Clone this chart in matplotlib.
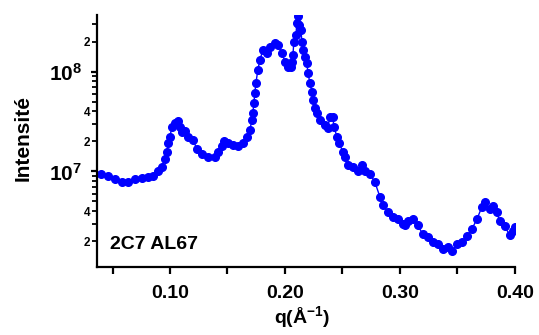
import numpy as np
import matplotlib
matplotlib.use("Agg")
import matplotlib.pyplot as plt
from matplotlib.ticker import LogLocator, FixedLocator, FuncFormatter

plt.rcParams['font.family'] = ['Liberation Sans', 'DejaVu Sans']
plt.rcParams['font.weight'] = 'bold'
plt.rcParams['mathtext.fontset'] = 'custom'
plt.rcParams['mathtext.rm'] = 'Liberation Sans:bold'
plt.rcParams['mathtext.bf'] = 'Liberation Sans:bold'

# q (1/Angstrom) and intensity
q = [0.0400, 0.0461, 0.0522, 0.0583, 0.0635, 0.0696, 0.0757, 0.0809, 0.0852, 0.0896,
     0.0930, 0.0957, 0.0974, 0.0983, 0.1000, 0.1017, 0.1043, 0.1070, 0.1087, 0.1104,
     0.1130, 0.1157, 0.1200, 0.1235, 0.1278, 0.1330, 0.1391, 0.1417, 0.1452, 0.1470,
     0.1504, 0.1548, 0.1591, 0.1635, 0.1670, 0.1696, 0.1713, 0.1722, 0.1730, 0.1739,
     0.1748, 0.1765, 0.1783, 0.1809, 0.1843, 0.1870, 0.1913, 0.1939, 0.1974, 0.2000,
     0.2026, 0.2052, 0.2061, 0.2070, 0.2078, 0.2096, 0.2104, 0.2113, 0.2122, 0.2139,
     0.2148, 0.2157, 0.2174, 0.2191, 0.2200, 0.2217, 0.2235, 0.2243, 0.2261, 0.2278,
     0.2304, 0.2348, 0.2374, 0.2391, 0.2417, 0.2426, 0.2452, 0.2470, 0.2504, 0.2522,
     0.2548, 0.2591, 0.2635, 0.2670, 0.2696, 0.2739, 0.2783, 0.2826, 0.2852, 0.2896,
     0.2939, 0.2983, 0.3026, 0.3043, 0.3070, 0.3113, 0.3157, 0.3200, 0.3243, 0.3287,
     0.3330, 0.3374, 0.3417, 0.3452, 0.3496, 0.3539, 0.3583, 0.3626, 0.3670, 0.3713,
     0.3739, 0.3783, 0.3809, 0.3843, 0.3870, 0.3913, 0.3957, 0.3983, 0.4000]
intensity = [9.5e6, 8.9e6, 8.3e6, 7.8e6, 7.9e6, 8.3e6, 8.5e6, 8.7e6, 9.1e6, 1.0e7,
             1.12e7, 1.32e7, 1.55e7, 1.95e7, 2.24e7, 2.82e7, 3.09e7, 3.24e7, 2.82e7, 2.5e7,
             2.57e7, 2.24e7, 2.09e7, 1.66e7, 1.48e7, 1.41e7, 1.41e7, 1.55e7, 1.78e7, 2.04e7,
             1.95e7, 1.86e7, 1.78e7, 1.95e7, 2.19e7, 2.63e7, 3.31e7, 3.89e7, 4.9e7, 6.17e7,
             7.76e7, 1.05e8, 1.32e8, 1.66e8, 1.55e8, 1.78e8, 1.95e8, 1.86e8, 1.55e8, 1.26e8,
             1.12e8, 1.12e8, 1.26e8, 1.48e8, 2.0e8, 2.34e8, 3.09e8, 3.63e8, 2.95e8, 2.63e8,
             2.0e8, 1.66e8, 1.41e8, 1.23e8, 9.8e7, 7.76e7, 6.3e7, 5.25e7, 4.37e7, 3.89e7,
             3.31e7, 2.95e7, 2.75e7, 3.55e7, 3.55e7, 2.82e7, 2.24e7, 1.95e7, 1.58e7, 1.38e7,
             1.17e7, 1.10e7, 1.02e7, 1.17e7, 1.0e7, 9.5e6, 7.8e6, 5.6e6, 4.57e6, 3.9e6,
             3.47e6, 3.3e6, 2.95e6, 2.88e6, 3.16e6, 3.3e6, 2.88e6, 2.34e6, 2.19e6, 1.95e6,
             1.86e6, 1.66e6, 1.74e6, 1.58e6, 1.86e6, 1.95e6, 2.24e6, 2.63e6, 3.3e6, 4.37e6,
             4.9e6, 4.17e6, 4.47e6, 3.89e6, 3.16e6, 2.82e6, 2.29e6, 2.51e6, 2.75e6]

x_ticks = [0.10, 0.20, 0.30, 0.40]
x_minor = [0.05, 0.15, 0.25, 0.35]
sample_name = '2C7 AL67'

fig = plt.figure(figsize=(5.39, 3.35), dpi=100)
ax = fig.add_axes([0.18, 0.203, 0.775, 0.752])

ax.plot(q, intensity, color='#0000FF', lw=1, marker='o', ms=5.5, mec='#0000FF', mfc='#0000FF')
ax.set_yscale('log')
ax.set_xlim(0.0365, 0.40)
ax.set_ylim(1.1e6, 3.7e8)

ax.xaxis.set_major_locator(FixedLocator(x_ticks))
ax.xaxis.set_minor_locator(FixedLocator(x_minor))
ax.set_xticklabels(['%.2f' % t for t in x_ticks])

ax.yaxis.set_major_locator(LogLocator(base=10, subs=(1.0,)))
ax.yaxis.set_minor_locator(LogLocator(base=10, subs=np.arange(2, 10)))
ax.yaxis.set_major_formatter(FuncFormatter(lambda v, p: r'$\mathbf{10^{%d}}$' % round(np.log10(v))))

def minor_fmt(v, p):
    m = round(v / 10 ** np.floor(np.log10(v) + 1e-9))
    return str(m) if m in (2, 4) else ''
ax.yaxis.set_minor_formatter(FuncFormatter(minor_fmt))

for s in ['top', 'right']:
    ax.spines[s].set_visible(False)
for s in ['left', 'bottom']:
    ax.spines[s].set_linewidth(1.6)

ax.tick_params(axis='x', which='both', direction='out', length=5, width=1.6, labelsize=14, pad=8)
ax.tick_params(axis='y', which='major', direction='out', length=4, width=1.6, labelsize=15, pad=7)
ax.tick_params(axis='y', which='minor', direction='out', length=3.5, width=1.3, labelsize=8.5, pad=1.5)

ax.set_xlabel(r'q(Å$^{\mathbf{-1}}$)', fontsize=14, fontweight='bold')
ax.xaxis.set_label_coords(0.49, -0.15)
ax.set_ylabel('Intensité', fontsize=15, fontweight='bold')
ax.yaxis.set_label_coords(-0.155, 0.514)

ax.text(0.031, 0.07, sample_name, transform=ax.transAxes, fontsize=14, fontweight='bold')

fig.savefig('out.png', dpi=100)
